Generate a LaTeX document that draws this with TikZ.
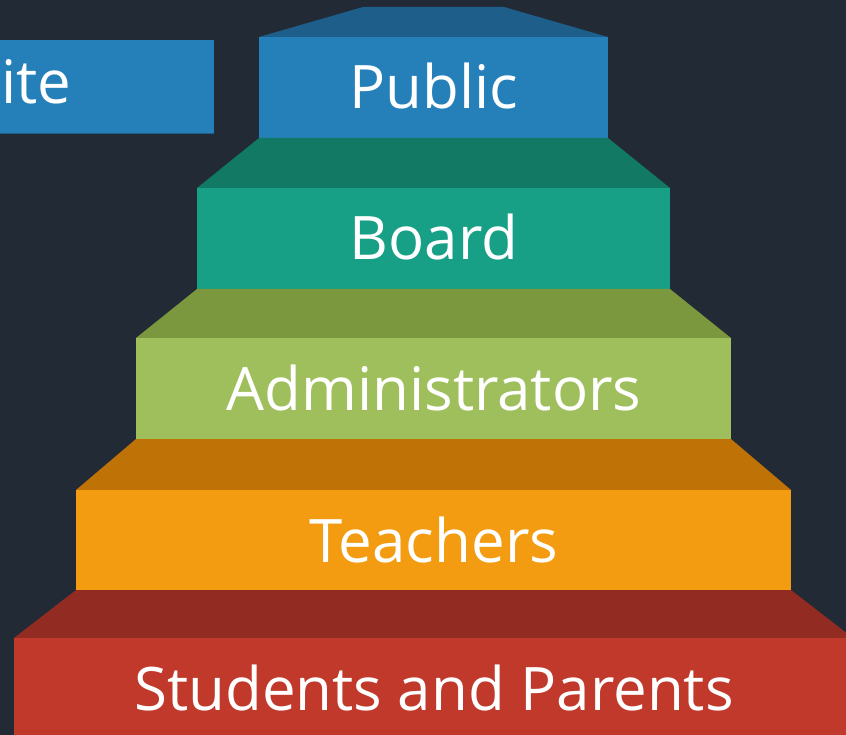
\documentclass[tikz,border=0pt]{standalone}
\usepackage{fontspec}
\setmainfont{Open Sans}
\definecolor{bg}{HTML}{222A35}
\definecolor{pubf}{HTML}{2580B9}
\definecolor{pubt}{HTML}{1D5F8A}
\definecolor{boaf}{HTML}{17A086}
\definecolor{boat}{HTML}{127A64}
\definecolor{admf}{HTML}{9EBF5B}
\definecolor{admt}{HTML}{7B983E}
\definecolor{teaf}{HTML}{F39C12}
\definecolor{teat}{HTML}{BF7307}
\definecolor{stuf}{HTML}{C0392B}
\definecolor{stut}{HTML}{922B21}
\tikzset{
  lbl/.style={text=white, font=\fontsize{60}{60}\selectfont, inner sep=0pt, anchor=base},
}
\begin{document}
\begin{tikzpicture}[x=1pt,y=-1pt]
\useasboundingbox (0,0) rectangle (846,735);
\clip (0,0) rectangle (846,735);
\fill[bg] (0,0) rectangle (846,735);
% left box
\fill[pubf] (0,40) rectangle (214,134);
\fill[pubt] (0,133) rectangle (214,134);
\node[lbl, anchor=base west] (site) at (1,104) {ite};
% top cap
\fill[pubt] (363,7) -- (504,7) -- (608,37) -- (259,37) -- cycle;
\fill[pubf] (259,37) rectangle (608,138);
% board
\fill[boat] (259,138) -- (608,138) -- (670,188) -- (197,188) -- cycle;
\fill[boaf] (197,188) rectangle (670,289);
% admin
\fill[admt] (197,289) -- (670,289) -- (731,338) -- (136,338) -- cycle;
\fill[admf] (136,338) rectangle (731,439);
% teachers
\fill[teat] (136,439) -- (731,439) -- (791,490) -- (76,490) -- cycle;
\fill[teaf] (76,490) rectangle (791,590);
% students
\fill[stut] (76,590) -- (791,590) -- (853,638) -- (14,638) -- cycle;
\fill[stuf] (14,638) rectangle (853,740);
% labels
\node[lbl] (public) at (434,109) {Public};
\node[lbl] (board) at (434,260) {Board};
\node[lbl] (admin) at (434,410) {Administrators};
\node[lbl] (teach) at (434,562) {Teachers};
\node[lbl] (stud) at (434,710) {Students and Parents};
\end{tikzpicture}
\end{document}
